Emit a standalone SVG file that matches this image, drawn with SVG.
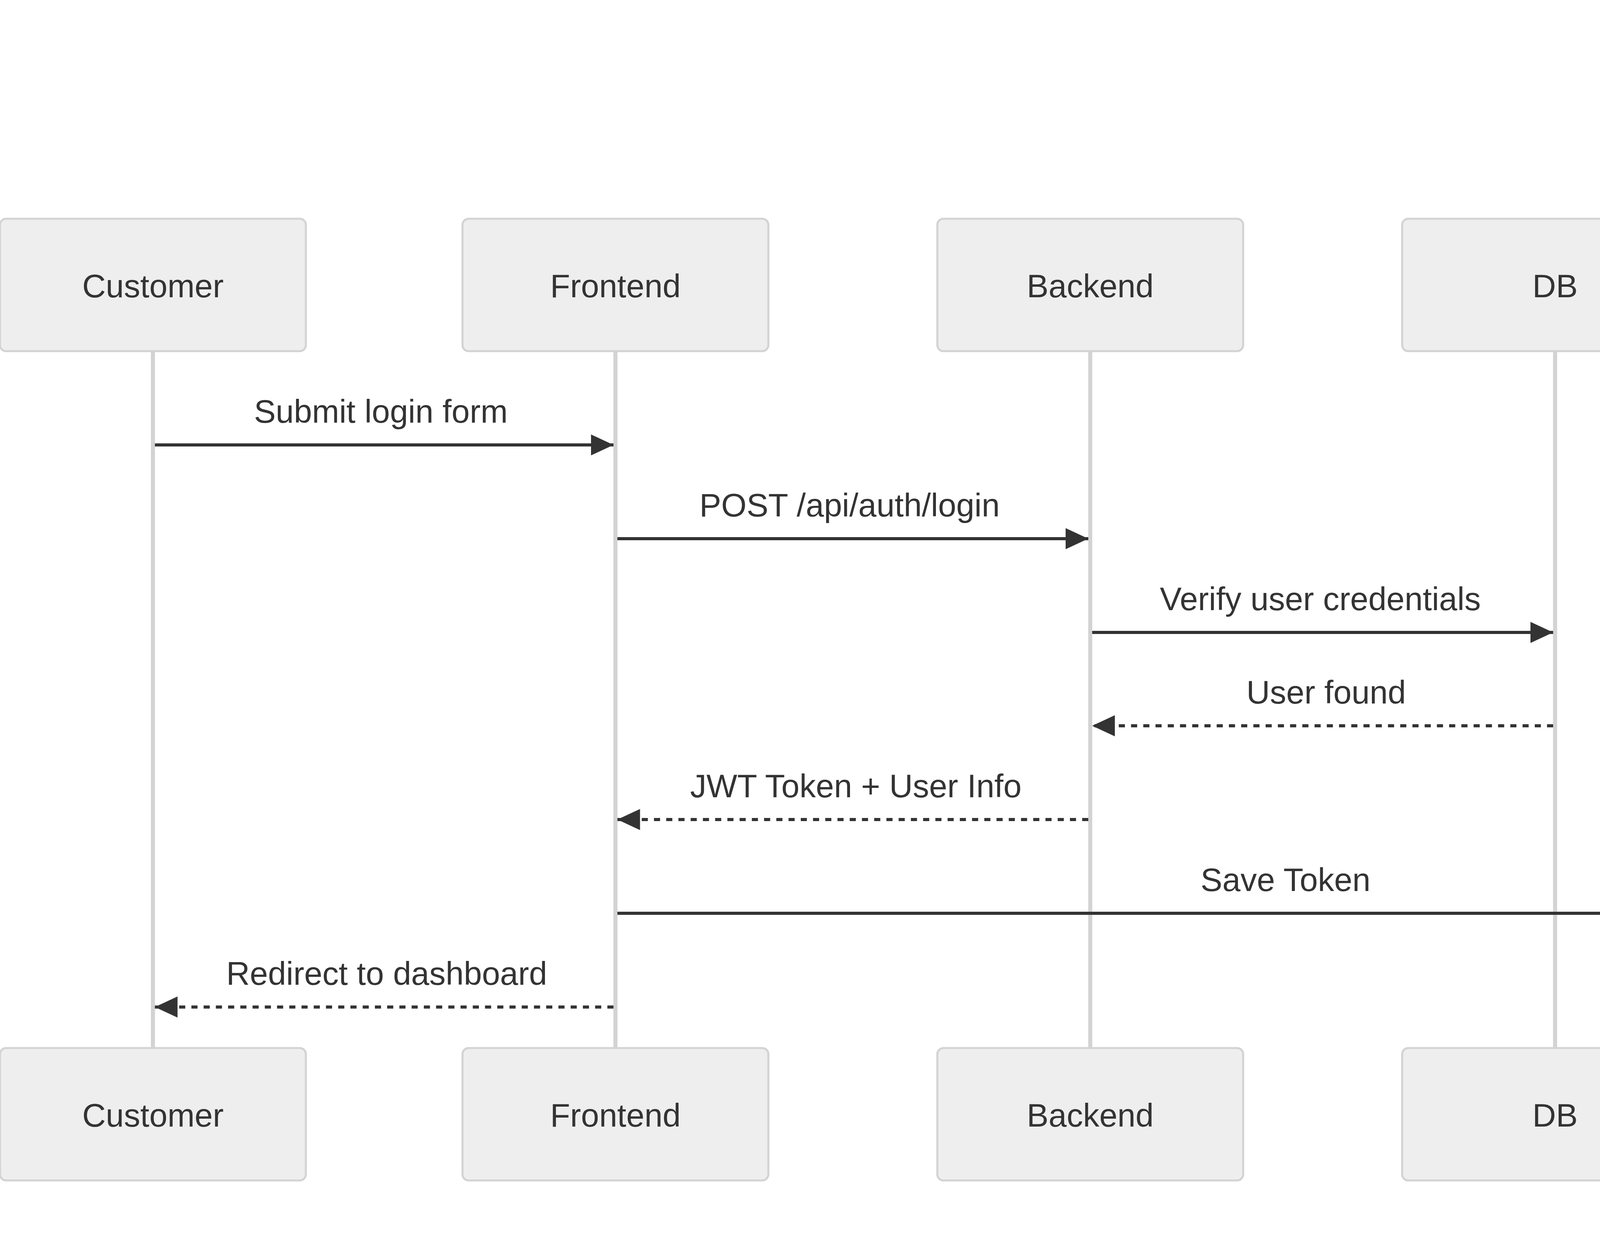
<svg xmlns="http://www.w3.org/2000/svg" width="4800" height="3200" viewBox="0 0 4800 3200">
<style>
.actor{fill:#eeeeee;stroke:#d3d3d3;stroke-width:5.2}
.atext{font-family:"Liberation Sans",Arial,sans-serif;font-size:83.5px;fill:#333333;text-anchor:middle}
.life{stroke:#d3d3d3;stroke-width:10.4}
.msg{stroke:#333333;stroke-width:7.8;fill:none}
.dash{stroke-dasharray:15.66 15.66}
.mtext{font-family:"Liberation Sans",Arial,sans-serif;font-size:83.5px;fill:#333333;text-anchor:middle}
</style>
<defs>
<marker id="arrow" viewBox="0 0 58 54" markerWidth="58" markerHeight="54" refX="58" refY="27" orient="auto" markerUnits="userSpaceOnUse">
<path d="M0,0 L58,27 L0,54 z" fill="#333333"/>
</marker>
</defs>
<rect width="4800" height="3200" fill="#ffffff"/>
<g id="lifelines">
<line class="life" x1="391.5" y1="899" x2="391.5" y2="2683"/>
<line class="life" x1="1575.5" y1="899" x2="1575.5" y2="2683"/>
<line class="life" x1="2791" y1="899" x2="2791" y2="2683"/>
<line class="life" x1="3981" y1="899" x2="3981" y2="2683"/>
</g>
<g id="customer-top"><rect class="actor" x="0" y="560" width="783" height="339" rx="15.7"/><text class="atext" x="391.5" y="760.5">Customer</text></g>
<g id="frontend-top"><rect class="actor" x="1184" y="560" width="783" height="339" rx="15.7"/><text class="atext" x="1575.5" y="760.5">Frontend</text></g>
<g id="backend-top"><rect class="actor" x="2399.5" y="560" width="783" height="339" rx="15.7"/><text class="atext" x="2791" y="760.5">Backend</text></g>
<g id="db-top"><rect class="actor" x="3589.5" y="560" width="783" height="339" rx="15.7"/><text class="atext" x="3981" y="760.5">DB</text></g>
<g id="l-top"><rect class="actor" x="4631" y="560" width="783" height="339" rx="15.7"/><text class="atext" x="4776.5" y="760.5" style="text-anchor:start">L</text></g>
<g id="customer-bottom"><rect class="actor" x="0" y="2683" width="783" height="339" rx="15.7"/><text class="atext" x="391.5" y="2883.5">Customer</text></g>
<g id="frontend-bottom"><rect class="actor" x="1184" y="2683" width="783" height="339" rx="15.7"/><text class="atext" x="1575.5" y="2883.5">Frontend</text></g>
<g id="backend-bottom"><rect class="actor" x="2399.5" y="2683" width="783" height="339" rx="15.7"/><text class="atext" x="2791" y="2883.5">Backend</text></g>
<g id="db-bottom"><rect class="actor" x="3589.5" y="2683" width="783" height="339" rx="15.7"/><text class="atext" x="3981" y="2883.5">DB</text></g>
<g id="l-bottom"><rect class="actor" x="4631" y="2683" width="783" height="339" rx="15.7"/><text class="atext" x="4776.5" y="2883.5" style="text-anchor:start">L</text></g>
<g id="connectors">
<line class="msg" x1="396.5" y1="1139" x2="1570.5" y2="1139" marker-end="url(#arrow)"/>
<text class="mtext" x="975" y="1082">Submit login form</text>
<line class="msg" x1="1580.5" y1="1379" x2="2786" y2="1379" marker-end="url(#arrow)"/>
<text class="mtext" x="2175" y="1322">POST /api/auth/login</text>
<line class="msg" x1="2796" y1="1619" x2="3976" y2="1619" marker-end="url(#arrow)"/>
<text class="mtext" x="3380" y="1562">Verify user credentials</text>
<line class="msg dash" x1="3976" y1="1858" x2="2796" y2="1858" marker-end="url(#arrow)"/>
<text class="mtext" x="3395" y="1801">User found</text>
<line class="msg dash" x1="2786" y1="2098" x2="1580.5" y2="2098" marker-end="url(#arrow)"/>
<text class="mtext" x="2191" y="2041">JWT Token + User Info</text>
<line class="msg" x1="1580.5" y1="2338" x2="4800" y2="2338"/>
<text class="mtext" x="3291" y="2281">Save Token</text>
<line class="msg dash" x1="1570.5" y1="2578" x2="396.5" y2="2578" marker-end="url(#arrow)"/>
<text class="mtext" x="990" y="2521">Redirect to dashboard</text>
</g>
</svg>
